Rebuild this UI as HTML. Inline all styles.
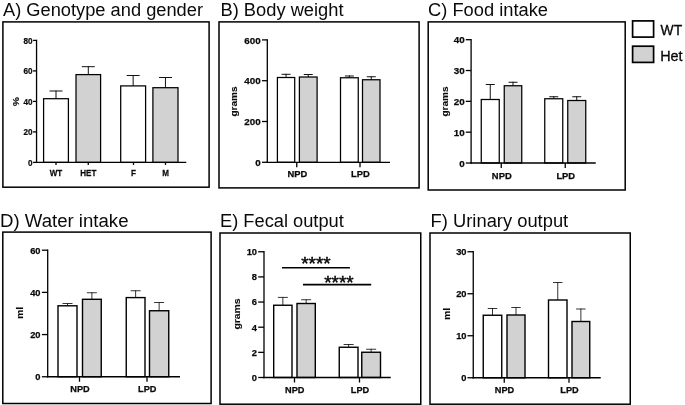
<!DOCTYPE html>
<html><head><meta charset="utf-8"><title>Figure</title>
<style>
html,body{margin:0;padding:0;background:#fff;}
body{width:685px;height:405px;overflow:hidden;font-family:'Liberation Sans', sans-serif;}
svg{display:block;will-change:transform;font-family:"Liberation Sans",sans-serif;fill:#0a0a0a;}
</style></head><body>
<svg width="685" height="405" viewBox="0 0 685 405">
<rect x="0" y="0" width="685" height="405" fill="#ffffff" stroke="none"/>
<rect x="2.9" y="21.9" width="206.2" height="165.3" fill="none" stroke="#000" stroke-width="1.5"/>
<text x="3" y="16.2" font-size="18" font-weight="normal" text-anchor="start" textLength="200" lengthAdjust="spacingAndGlyphs">A) Genotype and gender</text>
<line x1="56.0" y1="98.7" x2="56.0" y2="90.5" stroke="#111" stroke-width="1.0" stroke-linecap="butt"/>
<line x1="49.5" y1="91" x2="62.5" y2="91" stroke="#111" stroke-width="1.0" stroke-linecap="butt"/>
<line x1="88.3" y1="74.6" x2="88.3" y2="66.2" stroke="#111" stroke-width="1.0" stroke-linecap="butt"/>
<line x1="81.8" y1="66.7" x2="94.8" y2="66.7" stroke="#111" stroke-width="1.0" stroke-linecap="butt"/>
<line x1="133.15" y1="85.9" x2="133.15" y2="75.0" stroke="#111" stroke-width="1.0" stroke-linecap="butt"/>
<line x1="126.65" y1="75.5" x2="139.65" y2="75.5" stroke="#111" stroke-width="1.0" stroke-linecap="butt"/>
<line x1="165.45" y1="87.7" x2="165.45" y2="77.0" stroke="#111" stroke-width="1.0" stroke-linecap="butt"/>
<line x1="158.95" y1="77.5" x2="171.95" y2="77.5" stroke="#111" stroke-width="1.0" stroke-linecap="butt"/>
<rect x="43.6" y="98.7" width="24.8" height="63.7" fill="#fff" stroke="#000" stroke-width="1.25"/>
<rect x="76" y="74.6" width="24.6" height="87.8" fill="#d2d2d2" stroke="#000" stroke-width="1.25"/>
<rect x="120.7" y="85.9" width="24.9" height="76.5" fill="#fff" stroke="#000" stroke-width="1.25"/>
<rect x="152.9" y="87.7" width="25.1" height="74.7" fill="#d2d2d2" stroke="#000" stroke-width="1.25"/>
<line x1="36.55" y1="39.75" x2="36.55" y2="163.05" stroke="#000" stroke-width="1.3" stroke-linecap="butt"/>
<line x1="35.9" y1="162.4" x2="186.25" y2="162.4" stroke="#000" stroke-width="1.3" stroke-linecap="butt"/>
<line x1="33.05" y1="162.4" x2="36.55" y2="162.4" stroke="#000" stroke-width="1.3" stroke-linecap="butt"/>
<text x="0" y="0" transform="translate(32.6 165.85) scale(0.85 1)" font-size="9.6" font-weight="bold" text-anchor="end" stroke="#0a0a0a" stroke-width="0.25">0</text>
<line x1="33.05" y1="131.9" x2="36.55" y2="131.9" stroke="#000" stroke-width="1.3" stroke-linecap="butt"/>
<text x="0" y="0" transform="translate(32.6 135.35) scale(0.85 1)" font-size="9.6" font-weight="bold" text-anchor="end" stroke="#0a0a0a" stroke-width="0.25">20</text>
<line x1="33.05" y1="101.4" x2="36.55" y2="101.4" stroke="#000" stroke-width="1.3" stroke-linecap="butt"/>
<text x="0" y="0" transform="translate(32.6 104.85) scale(0.85 1)" font-size="9.6" font-weight="bold" text-anchor="end" stroke="#0a0a0a" stroke-width="0.25">40</text>
<line x1="33.05" y1="70.9" x2="36.55" y2="70.9" stroke="#000" stroke-width="1.3" stroke-linecap="butt"/>
<text x="0" y="0" transform="translate(32.6 74.35) scale(0.85 1)" font-size="9.6" font-weight="bold" text-anchor="end" stroke="#0a0a0a" stroke-width="0.25">60</text>
<line x1="33.05" y1="40.400000000000006" x2="36.55" y2="40.400000000000006" stroke="#000" stroke-width="1.3" stroke-linecap="butt"/>
<text x="0" y="0" transform="translate(32.6 43.85) scale(0.85 1)" font-size="9.6" font-weight="bold" text-anchor="end" stroke="#0a0a0a" stroke-width="0.25">80</text>
<line x1="56" y1="162.4" x2="56" y2="164.9" stroke="#000" stroke-width="1.3" stroke-linecap="butt"/>
<text x="0" y="0" transform="translate(56 176.4) scale(0.84 1)" font-size="9.6" font-weight="bold" text-anchor="middle" stroke="#0a0a0a" stroke-width="0.25">WT</text>
<line x1="88.25" y1="162.4" x2="88.25" y2="164.9" stroke="#000" stroke-width="1.3" stroke-linecap="butt"/>
<text x="0" y="0" transform="translate(88.25 176.4) scale(0.84 1)" font-size="9.6" font-weight="bold" text-anchor="middle" stroke="#0a0a0a" stroke-width="0.25">HET</text>
<line x1="133.5" y1="162.4" x2="133.5" y2="164.9" stroke="#000" stroke-width="1.3" stroke-linecap="butt"/>
<text x="0" y="0" transform="translate(133.5 176.4) scale(0.84 1)" font-size="9.6" font-weight="bold" text-anchor="middle" stroke="#0a0a0a" stroke-width="0.25">F</text>
<line x1="165.5" y1="162.4" x2="165.5" y2="164.9" stroke="#000" stroke-width="1.3" stroke-linecap="butt"/>
<text x="0" y="0" transform="translate(165.5 176.4) scale(0.84 1)" font-size="9.6" font-weight="bold" text-anchor="middle" stroke="#0a0a0a" stroke-width="0.25">M</text>
<text transform="translate(19.3 101.6) rotate(-90) scale(1.15 1)" font-size="9" font-weight="bold" text-anchor="middle" stroke="#0a0a0a" stroke-width="0.12">%</text>
<rect x="219" y="21.9" width="200.1" height="166.0" fill="none" stroke="#000" stroke-width="1.5"/>
<text x="220.5" y="16.2" font-size="18" font-weight="normal" text-anchor="start" textLength="123" lengthAdjust="spacingAndGlyphs">B) Body weight</text>
<line x1="286.04999999999995" y1="77.5" x2="286.04999999999995" y2="73.8" stroke="#111" stroke-width="1.0" stroke-linecap="butt"/>
<line x1="281.54999999999995" y1="74.3" x2="290.54999999999995" y2="74.3" stroke="#111" stroke-width="1.0" stroke-linecap="butt"/>
<line x1="308.25" y1="77" x2="308.25" y2="74.0" stroke="#111" stroke-width="1.0" stroke-linecap="butt"/>
<line x1="303.75" y1="74.5" x2="312.75" y2="74.5" stroke="#111" stroke-width="1.0" stroke-linecap="butt"/>
<line x1="349.375" y1="77.75" x2="349.375" y2="75.5" stroke="#111" stroke-width="1.0" stroke-linecap="butt"/>
<line x1="344.875" y1="76" x2="353.875" y2="76" stroke="#111" stroke-width="1.0" stroke-linecap="butt"/>
<line x1="371.25" y1="79.75" x2="371.25" y2="76.25" stroke="#111" stroke-width="1.0" stroke-linecap="butt"/>
<line x1="366.75" y1="76.75" x2="375.75" y2="76.75" stroke="#111" stroke-width="1.0" stroke-linecap="butt"/>
<rect x="277.4" y="77.5" width="17.3" height="84.8" fill="#fff" stroke="#000" stroke-width="1.25"/>
<rect x="299.4" y="77" width="17.7" height="85.3" fill="#d2d2d2" stroke="#000" stroke-width="1.25"/>
<rect x="340.5" y="77.75" width="17.75" height="84.55" fill="#fff" stroke="#000" stroke-width="1.25"/>
<rect x="362.5" y="79.75" width="17.5" height="82.55" fill="#d2d2d2" stroke="#000" stroke-width="1.25"/>
<line x1="267.3" y1="39.25" x2="267.3" y2="162.95000000000002" stroke="#000" stroke-width="1.3" stroke-linecap="butt"/>
<line x1="266.65000000000003" y1="162.3" x2="390" y2="162.3" stroke="#000" stroke-width="1.3" stroke-linecap="butt"/>
<line x1="262.0" y1="162.3" x2="267.3" y2="162.3" stroke="#000" stroke-width="1.3" stroke-linecap="butt"/>
<text x="0" y="0" transform="translate(260.6 165.95) scale(1.0 1)" font-size="9.8" font-weight="bold" text-anchor="end" stroke="#0a0a0a" stroke-width="0.25">0</text>
<line x1="262.0" y1="121.5" x2="267.3" y2="121.5" stroke="#000" stroke-width="1.3" stroke-linecap="butt"/>
<text x="0" y="0" transform="translate(260.6 125.15) scale(1.0 1)" font-size="9.8" font-weight="bold" text-anchor="end" stroke="#0a0a0a" stroke-width="0.25">200</text>
<line x1="262.0" y1="80.7" x2="267.3" y2="80.7" stroke="#000" stroke-width="1.3" stroke-linecap="butt"/>
<text x="0" y="0" transform="translate(260.6 84.35) scale(1.0 1)" font-size="9.8" font-weight="bold" text-anchor="end" stroke="#0a0a0a" stroke-width="0.25">400</text>
<line x1="262.0" y1="39.89999999999999" x2="267.3" y2="39.89999999999999" stroke="#000" stroke-width="1.3" stroke-linecap="butt"/>
<text x="0" y="0" transform="translate(260.6 43.55) scale(1.0 1)" font-size="9.8" font-weight="bold" text-anchor="end" stroke="#0a0a0a" stroke-width="0.25">600</text>
<line x1="296.75" y1="162.3" x2="296.75" y2="167.3" stroke="#000" stroke-width="1.3" stroke-linecap="butt"/>
<text x="0" y="0" transform="translate(297.3 177) scale(1.0 1)" font-size="9.4" font-weight="bold" text-anchor="middle" stroke="#0a0a0a" stroke-width="0.25">NPD</text>
<line x1="360" y1="162.3" x2="360" y2="167.3" stroke="#000" stroke-width="1.3" stroke-linecap="butt"/>
<text x="0" y="0" transform="translate(360.3 177) scale(1.0 1)" font-size="9.4" font-weight="bold" text-anchor="middle" stroke="#0a0a0a" stroke-width="0.25">LPD</text>
<text transform="translate(236.9 101.5) rotate(-90) scale(1.08 1)" font-size="9.3" font-weight="bold" text-anchor="middle" stroke="#0a0a0a" stroke-width="0.12">grams</text>
<rect x="428.2" y="21.9" width="197.0" height="168.1" fill="none" stroke="#000" stroke-width="1.5"/>
<text x="428" y="16.2" font-size="18" font-weight="normal" text-anchor="start" textLength="120" lengthAdjust="spacingAndGlyphs">C) Food intake</text>
<line x1="490.25" y1="99.5" x2="490.25" y2="84.0" stroke="#111" stroke-width="1.0" stroke-linecap="butt"/>
<line x1="485.75" y1="84.5" x2="494.75" y2="84.5" stroke="#111" stroke-width="1.0" stroke-linecap="butt"/>
<line x1="513.0" y1="85.75" x2="513.0" y2="81.75" stroke="#111" stroke-width="1.0" stroke-linecap="butt"/>
<line x1="508.5" y1="82.25" x2="517.5" y2="82.25" stroke="#111" stroke-width="1.0" stroke-linecap="butt"/>
<line x1="553.75" y1="98.75" x2="553.75" y2="96.25" stroke="#111" stroke-width="1.0" stroke-linecap="butt"/>
<line x1="549.25" y1="96.75" x2="558.25" y2="96.75" stroke="#111" stroke-width="1.0" stroke-linecap="butt"/>
<line x1="576.75" y1="100.5" x2="576.75" y2="96.25" stroke="#111" stroke-width="1.0" stroke-linecap="butt"/>
<line x1="572.25" y1="96.75" x2="581.25" y2="96.75" stroke="#111" stroke-width="1.0" stroke-linecap="butt"/>
<rect x="481.25" y="99.5" width="18.0" height="63.5" fill="#fff" stroke="#000" stroke-width="1.25"/>
<rect x="504.25" y="85.75" width="17.5" height="77.25" fill="#d2d2d2" stroke="#000" stroke-width="1.25"/>
<rect x="544.75" y="98.75" width="18.0" height="64.25" fill="#fff" stroke="#000" stroke-width="1.25"/>
<rect x="567.75" y="100.5" width="18.0" height="62.5" fill="#d2d2d2" stroke="#000" stroke-width="1.25"/>
<line x1="471.1" y1="39.050000000000004" x2="471.1" y2="163.65" stroke="#000" stroke-width="1.3" stroke-linecap="butt"/>
<line x1="470.45000000000005" y1="163" x2="595.75" y2="163" stroke="#000" stroke-width="1.3" stroke-linecap="butt"/>
<line x1="465.8" y1="163.0" x2="471.1" y2="163.0" stroke="#000" stroke-width="1.3" stroke-linecap="butt"/>
<text x="0" y="0" transform="translate(464.6 166.65) scale(1.0 1)" font-size="9.8" font-weight="bold" text-anchor="end" stroke="#0a0a0a" stroke-width="0.25">0</text>
<line x1="465.8" y1="132.175" x2="471.1" y2="132.175" stroke="#000" stroke-width="1.3" stroke-linecap="butt"/>
<text x="0" y="0" transform="translate(464.6 135.83) scale(1.0 1)" font-size="9.8" font-weight="bold" text-anchor="end" stroke="#0a0a0a" stroke-width="0.25">10</text>
<line x1="465.8" y1="101.35" x2="471.1" y2="101.35" stroke="#000" stroke-width="1.3" stroke-linecap="butt"/>
<text x="0" y="0" transform="translate(464.6 105.0) scale(1.0 1)" font-size="9.8" font-weight="bold" text-anchor="end" stroke="#0a0a0a" stroke-width="0.25">20</text>
<line x1="465.8" y1="70.525" x2="471.1" y2="70.525" stroke="#000" stroke-width="1.3" stroke-linecap="butt"/>
<text x="0" y="0" transform="translate(464.6 74.18) scale(1.0 1)" font-size="9.8" font-weight="bold" text-anchor="end" stroke="#0a0a0a" stroke-width="0.25">30</text>
<line x1="465.8" y1="39.7" x2="471.1" y2="39.7" stroke="#000" stroke-width="1.3" stroke-linecap="butt"/>
<text x="0" y="0" transform="translate(464.6 43.35) scale(1.0 1)" font-size="9.8" font-weight="bold" text-anchor="end" stroke="#0a0a0a" stroke-width="0.25">40</text>
<line x1="501.25" y1="163" x2="501.25" y2="168" stroke="#000" stroke-width="1.3" stroke-linecap="butt"/>
<text x="0" y="0" transform="translate(501.75 178.75) scale(1.0 1)" font-size="9.4" font-weight="bold" text-anchor="middle" stroke="#0a0a0a" stroke-width="0.25">NPD</text>
<line x1="565.25" y1="163" x2="565.25" y2="168" stroke="#000" stroke-width="1.3" stroke-linecap="butt"/>
<text x="0" y="0" transform="translate(565.75 178.75) scale(1.0 1)" font-size="9.4" font-weight="bold" text-anchor="middle" stroke="#0a0a0a" stroke-width="0.25">LPD</text>
<text transform="translate(447.5 101.5) rotate(-90) scale(1.08 1)" font-size="9.3" font-weight="bold" text-anchor="middle" stroke="#0a0a0a" stroke-width="0.12">grams</text>
<rect x="2.8" y="232.1" width="208.3" height="171.4" fill="none" stroke="#000" stroke-width="1.5"/>
<text x="0" y="226.6" font-size="18" font-weight="normal" text-anchor="start" textLength="128.5" lengthAdjust="spacingAndGlyphs">D) Water intake</text>
<line x1="67.5" y1="305.8" x2="67.5" y2="303.075" stroke="#111" stroke-width="0.85" stroke-linecap="butt"/>
<line x1="62.5" y1="303.5" x2="72.5" y2="303.5" stroke="#111" stroke-width="0.85" stroke-linecap="butt"/>
<line x1="91.875" y1="299.3" x2="91.875" y2="292.325" stroke="#111" stroke-width="0.85" stroke-linecap="butt"/>
<line x1="86.875" y1="292.75" x2="96.875" y2="292.75" stroke="#111" stroke-width="0.85" stroke-linecap="butt"/>
<line x1="135.625" y1="297.6" x2="135.625" y2="290.325" stroke="#111" stroke-width="0.85" stroke-linecap="butt"/>
<line x1="130.625" y1="290.75" x2="140.625" y2="290.75" stroke="#111" stroke-width="0.85" stroke-linecap="butt"/>
<line x1="159.125" y1="310.75" x2="159.125" y2="302.075" stroke="#111" stroke-width="0.85" stroke-linecap="butt"/>
<line x1="154.125" y1="302.5" x2="164.125" y2="302.5" stroke="#111" stroke-width="0.85" stroke-linecap="butt"/>
<rect x="58" y="305.8" width="19" height="70.95" fill="#fff" stroke="#000" stroke-width="1.4"/>
<rect x="82.5" y="299.3" width="18.75" height="77.45" fill="#d2d2d2" stroke="#000" stroke-width="1.4"/>
<rect x="126.25" y="297.6" width="18.75" height="79.15" fill="#fff" stroke="#000" stroke-width="1.4"/>
<rect x="149.5" y="310.75" width="19.25" height="66.0" fill="#d2d2d2" stroke="#000" stroke-width="1.4"/>
<line x1="47.7" y1="249.54999999999998" x2="47.7" y2="377.4" stroke="#000" stroke-width="1.3" stroke-linecap="butt"/>
<line x1="47.050000000000004" y1="376.75" x2="180" y2="376.75" stroke="#000" stroke-width="1.3" stroke-linecap="butt"/>
<line x1="41.900000000000006" y1="376.75" x2="47.7" y2="376.75" stroke="#000" stroke-width="1.3" stroke-linecap="butt"/>
<text x="40.5" y="380.05" font-size="9.3" font-weight="bold" text-anchor="end" stroke="#0a0a0a" stroke-width="0.25">0</text>
<line x1="41.900000000000006" y1="334.56666666666666" x2="47.7" y2="334.56666666666666" stroke="#000" stroke-width="1.3" stroke-linecap="butt"/>
<text x="40.5" y="337.87" font-size="9.3" font-weight="bold" text-anchor="end" stroke="#0a0a0a" stroke-width="0.25">20</text>
<line x1="41.900000000000006" y1="292.3833333333333" x2="47.7" y2="292.3833333333333" stroke="#000" stroke-width="1.3" stroke-linecap="butt"/>
<text x="40.5" y="295.68" font-size="9.3" font-weight="bold" text-anchor="end" stroke="#0a0a0a" stroke-width="0.25">40</text>
<line x1="41.900000000000006" y1="250.2" x2="47.7" y2="250.2" stroke="#000" stroke-width="1.3" stroke-linecap="butt"/>
<text x="40.5" y="253.5" font-size="9.3" font-weight="bold" text-anchor="end" stroke="#0a0a0a" stroke-width="0.25">60</text>
<line x1="79.5" y1="376.75" x2="79.5" y2="381.75" stroke="#000" stroke-width="1.3" stroke-linecap="butt"/>
<text x="80" y="392.25" font-size="9.2" font-weight="bold" text-anchor="middle" stroke="#0a0a0a" stroke-width="0.25">NPD</text>
<line x1="147" y1="376.75" x2="147" y2="381.75" stroke="#000" stroke-width="1.3" stroke-linecap="butt"/>
<text x="147.3" y="392.25" font-size="9.2" font-weight="bold" text-anchor="middle" stroke="#0a0a0a" stroke-width="0.25">LPD</text>
<text transform="translate(23 313) rotate(-90) scale(1.12 1)" font-size="9.3" font-weight="bold" text-anchor="middle" stroke="#0a0a0a" stroke-width="0.12">ml</text>
<rect x="220" y="233" width="200.75" height="171.2" fill="none" stroke="#000" stroke-width="1.5"/>
<text x="220" y="226.6" font-size="18" font-weight="normal" text-anchor="start" textLength="123.8" lengthAdjust="spacingAndGlyphs">E) Fecal output</text>
<line x1="282.85" y1="305.25" x2="282.85" y2="296.97499999999997" stroke="#111" stroke-width="0.85" stroke-linecap="butt"/>
<line x1="277.85" y1="297.4" x2="287.85" y2="297.4" stroke="#111" stroke-width="0.85" stroke-linecap="butt"/>
<line x1="306.15" y1="303.5" x2="306.15" y2="299.325" stroke="#111" stroke-width="0.85" stroke-linecap="butt"/>
<line x1="301.15" y1="299.75" x2="311.15" y2="299.75" stroke="#111" stroke-width="0.85" stroke-linecap="butt"/>
<line x1="348.625" y1="347.25" x2="348.625" y2="344.075" stroke="#111" stroke-width="0.85" stroke-linecap="butt"/>
<line x1="343.625" y1="344.5" x2="353.625" y2="344.5" stroke="#111" stroke-width="0.85" stroke-linecap="butt"/>
<line x1="371.125" y1="352.25" x2="371.125" y2="348.825" stroke="#111" stroke-width="0.85" stroke-linecap="butt"/>
<line x1="366.125" y1="349.25" x2="376.125" y2="349.25" stroke="#111" stroke-width="0.85" stroke-linecap="butt"/>
<rect x="273.7" y="305.25" width="18.3" height="72.25" fill="#fff" stroke="#000" stroke-width="1.4"/>
<rect x="297" y="303.5" width="18.3" height="74.0" fill="#d2d2d2" stroke="#000" stroke-width="1.4"/>
<rect x="339.25" y="347.25" width="18.75" height="30.25" fill="#fff" stroke="#000" stroke-width="1.4"/>
<rect x="361.75" y="352.25" width="18.75" height="25.25" fill="#d2d2d2" stroke="#000" stroke-width="1.4"/>
<line x1="264" y1="251.1" x2="264" y2="378.15" stroke="#000" stroke-width="1.3" stroke-linecap="butt"/>
<line x1="263.35" y1="377.5" x2="390.75" y2="377.5" stroke="#000" stroke-width="1.3" stroke-linecap="butt"/>
<line x1="258.2" y1="377.5" x2="264" y2="377.5" stroke="#000" stroke-width="1.3" stroke-linecap="butt"/>
<text x="257" y="380.8" font-size="9.3" font-weight="bold" text-anchor="end" stroke="#0a0a0a" stroke-width="0.25">0</text>
<line x1="258.2" y1="352.35" x2="264" y2="352.35" stroke="#000" stroke-width="1.3" stroke-linecap="butt"/>
<text x="257" y="355.65" font-size="9.3" font-weight="bold" text-anchor="end" stroke="#0a0a0a" stroke-width="0.25">2</text>
<line x1="258.2" y1="327.2" x2="264" y2="327.2" stroke="#000" stroke-width="1.3" stroke-linecap="butt"/>
<text x="257" y="330.5" font-size="9.3" font-weight="bold" text-anchor="end" stroke="#0a0a0a" stroke-width="0.25">4</text>
<line x1="258.2" y1="302.05" x2="264" y2="302.05" stroke="#000" stroke-width="1.3" stroke-linecap="butt"/>
<text x="257" y="305.35" font-size="9.3" font-weight="bold" text-anchor="end" stroke="#0a0a0a" stroke-width="0.25">6</text>
<line x1="258.2" y1="276.9" x2="264" y2="276.9" stroke="#000" stroke-width="1.3" stroke-linecap="butt"/>
<text x="257" y="280.2" font-size="9.3" font-weight="bold" text-anchor="end" stroke="#0a0a0a" stroke-width="0.25">8</text>
<line x1="258.2" y1="251.75" x2="264" y2="251.75" stroke="#000" stroke-width="1.3" stroke-linecap="butt"/>
<text x="257" y="255.05" font-size="9.3" font-weight="bold" text-anchor="end" stroke="#0a0a0a" stroke-width="0.25">10</text>
<line x1="294.5" y1="377.5" x2="294.5" y2="382.5" stroke="#000" stroke-width="1.3" stroke-linecap="butt"/>
<text x="294.75" y="392.75" font-size="9.2" font-weight="bold" text-anchor="middle" stroke="#0a0a0a" stroke-width="0.25">NPD</text>
<line x1="359.5" y1="377.5" x2="359.5" y2="382.5" stroke="#000" stroke-width="1.3" stroke-linecap="butt"/>
<text x="360" y="392.75" font-size="9.2" font-weight="bold" text-anchor="middle" stroke="#0a0a0a" stroke-width="0.25">LPD</text>
<text transform="translate(240 314) rotate(-90) scale(1.12 1)" font-size="9.3" font-weight="bold" text-anchor="middle" stroke="#0a0a0a" stroke-width="0.12">grams</text>
<rect x="430" y="233" width="200.25" height="171.2" fill="none" stroke="#000" stroke-width="1.5"/>
<text x="430.6" y="226.6" font-size="18" font-weight="normal" text-anchor="start" textLength="137.6" lengthAdjust="spacingAndGlyphs">F) Urinary output</text>
<line x1="492.5" y1="315.25" x2="492.5" y2="308.075" stroke="#111" stroke-width="0.85" stroke-linecap="butt"/>
<line x1="487.75" y1="308.5" x2="497.25" y2="308.5" stroke="#111" stroke-width="0.85" stroke-linecap="butt"/>
<line x1="516.0" y1="315" x2="516.0" y2="307.075" stroke="#111" stroke-width="0.85" stroke-linecap="butt"/>
<line x1="511.25" y1="307.5" x2="520.75" y2="307.5" stroke="#111" stroke-width="0.85" stroke-linecap="butt"/>
<line x1="557.75" y1="300" x2="557.75" y2="282.075" stroke="#111" stroke-width="0.85" stroke-linecap="butt"/>
<line x1="553.0" y1="282.5" x2="562.5" y2="282.5" stroke="#111" stroke-width="0.85" stroke-linecap="butt"/>
<line x1="580.875" y1="321.5" x2="580.875" y2="308.575" stroke="#111" stroke-width="0.85" stroke-linecap="butt"/>
<line x1="576.125" y1="309" x2="585.625" y2="309" stroke="#111" stroke-width="0.85" stroke-linecap="butt"/>
<rect x="483.25" y="315.25" width="18.5" height="62.5" fill="#fff" stroke="#000" stroke-width="1.4"/>
<rect x="507" y="315" width="18" height="62.75" fill="#d2d2d2" stroke="#000" stroke-width="1.4"/>
<rect x="548.5" y="300" width="18.5" height="77.75" fill="#fff" stroke="#000" stroke-width="1.4"/>
<rect x="572" y="321.5" width="17.75" height="56.25" fill="#d2d2d2" stroke="#000" stroke-width="1.4"/>
<line x1="473.25" y1="251.1" x2="473.25" y2="378.4" stroke="#000" stroke-width="1.3" stroke-linecap="butt"/>
<line x1="472.6" y1="377.75" x2="600.75" y2="377.75" stroke="#000" stroke-width="1.3" stroke-linecap="butt"/>
<line x1="467.45" y1="377.75" x2="473.25" y2="377.75" stroke="#000" stroke-width="1.3" stroke-linecap="butt"/>
<text x="466.5" y="381.05" font-size="9.3" font-weight="bold" text-anchor="end" stroke="#0a0a0a" stroke-width="0.25">0</text>
<line x1="467.45" y1="335.75" x2="473.25" y2="335.75" stroke="#000" stroke-width="1.3" stroke-linecap="butt"/>
<text x="466.5" y="339.05" font-size="9.3" font-weight="bold" text-anchor="end" stroke="#0a0a0a" stroke-width="0.25">10</text>
<line x1="467.45" y1="293.75" x2="473.25" y2="293.75" stroke="#000" stroke-width="1.3" stroke-linecap="butt"/>
<text x="466.5" y="297.05" font-size="9.3" font-weight="bold" text-anchor="end" stroke="#0a0a0a" stroke-width="0.25">20</text>
<line x1="467.45" y1="251.75" x2="473.25" y2="251.75" stroke="#000" stroke-width="1.3" stroke-linecap="butt"/>
<text x="466.5" y="255.05" font-size="9.3" font-weight="bold" text-anchor="end" stroke="#0a0a0a" stroke-width="0.25">30</text>
<line x1="504.25" y1="377.75" x2="504.25" y2="382.75" stroke="#000" stroke-width="1.3" stroke-linecap="butt"/>
<text x="504.5" y="392.75" font-size="9.2" font-weight="bold" text-anchor="middle" stroke="#0a0a0a" stroke-width="0.25">NPD</text>
<line x1="569" y1="377.75" x2="569" y2="382.75" stroke="#000" stroke-width="1.3" stroke-linecap="butt"/>
<text x="569.5" y="392.75" font-size="9.2" font-weight="bold" text-anchor="middle" stroke="#0a0a0a" stroke-width="0.25">LPD</text>
<text transform="translate(450 314) rotate(-90) scale(1.12 1)" font-size="9.3" font-weight="bold" text-anchor="middle" stroke="#0a0a0a" stroke-width="0.12">ml</text>
<line x1="282" y1="267.8" x2="349.9" y2="267.8" stroke="#000" stroke-width="1.6" stroke-linecap="butt"/>
<line x1="303" y1="284.6" x2="371.2" y2="284.6" stroke="#000" stroke-width="1.6" stroke-linecap="butt"/>
<text x="315.9" y="269.6" font-size="18.5" font-weight="normal" text-anchor="middle" textLength="29.4" lengthAdjust="spacingAndGlyphs" stroke="#000" stroke-width="0.45">****</text>
<text x="338.9" y="288.5" font-size="18.5" font-weight="normal" text-anchor="middle" textLength="29.4" lengthAdjust="spacingAndGlyphs" stroke="#000" stroke-width="0.45">****</text>
<rect x="632.6" y="20.9" width="21.0" height="16.2" fill="#fff" stroke="#000" stroke-width="1.7"/>
<rect x="632.6" y="46.2" width="21.0" height="16.2" fill="#d2d2d2" stroke="#000" stroke-width="1.7"/>
<text x="660.6" y="34.6" font-size="14" font-weight="normal" text-anchor="start" textLength="21.6" lengthAdjust="spacingAndGlyphs" stroke="#000" stroke-width="0.3">WT</text>
<text x="660.2" y="60.9" font-size="14" font-weight="normal" text-anchor="start" textLength="22.4" lengthAdjust="spacingAndGlyphs" stroke="#000" stroke-width="0.3">Het</text>
</svg>
</body></html>
